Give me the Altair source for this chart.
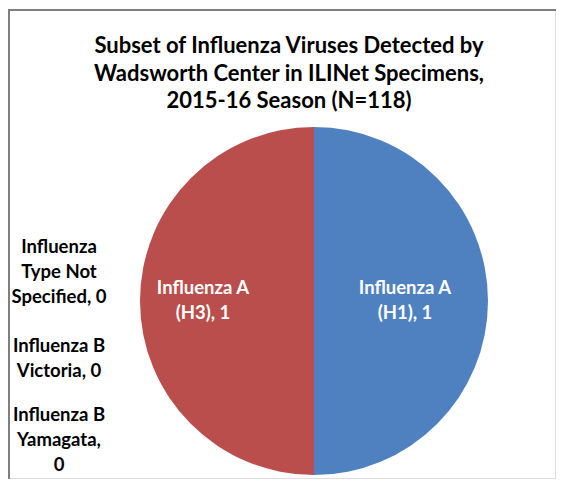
import altair as alt
import pandas as pd

# ---- data ----
categories = [
    "Influenza A (H1)",
    "Influenza A (H3)",
    "Influenza Type Not Specified",
    "Influenza B Victoria",
    "Influenza B Yamagata",
]
counts = [1, 1, 0, 0, 0]
slice_labels = [
    "Influenza A\n(H1), 1",
    "Influenza A\n(H3), 1",
    "Influenza\nType Not\nSpecified, 0",
    "Influenza B\nVictoria, 0",
    "Influenza B\nYamagata,\n0",
]
colors = ["#4F81C1", "#BA4E4C", "#9BBB59", "#8064A2", "#4BACC6"]
title_lines = [
    "Subset of Influenza Viruses Detected by",
    "Wadsworth Center in ILINet Specimens,",
    "2015-16 Season (N=118)",
]

df = pd.DataFrame({
    "category": categories,
    "count": counts,
    "label": slice_labels,
    "order": list(range(len(categories))),
})

W, H = 548, 471
CX, CY, R = 305, 292, 174
FONT = "Lato"
LABEL_SIZE = 18.5

base = alt.Chart(df).encode(
    theta=alt.Theta("count:Q", stack=True),
    order=alt.Order("order:Q"),
)

pie = base.mark_arc(outerRadius=R).encode(
    color=alt.Color("category:N", scale=alt.Scale(domain=categories, range=colors), legend=None),
    x=alt.value(CX),
    y=alt.value(CY),
)

inside = base.transform_filter(alt.datum["count"] > 0).mark_text(
    radius=101, font=FONT, fontWeight="bold", fontSize=LABEL_SIZE, color="white",
    lineBreak="\n", lineHeight=25, align="center", baseline="middle", dy=-13, dx=-10,
).encode(text="label:N", x=alt.value(CX), y=alt.value(CY))

# first-line positions of the three zero-value labels stacked on the left
zero_tops = {categories[2]: 238, categories[3]: 337, categories[4]: 406}
zero_layers = []
for cat, ytop in zero_tops.items():
    zero_layers.append(
        alt.Chart(df).transform_filter(alt.datum["category"] == cat).mark_text(
            font=FONT, fontWeight="bold", fontSize=LABEL_SIZE, color="black",
            lineBreak="\n", lineHeight=25, align="center", baseline="middle",
        ).encode(text="label:N", x=alt.value(50), y=alt.value(ytop))
    )

title_df = pd.DataFrame({"line": title_lines, "i": list(range(len(title_lines)))})
title = alt.Chart(title_df).mark_text(
    font=FONT, fontWeight="bold", fontSize=22, color="black",
    align="center", baseline="middle",
).encode(
    text="line:N",
    x=alt.value(280),
    y=alt.Y("i:O", axis=None, scale=alt.Scale(type="point", range=[37, 92], padding=0)),
)

frame_df = pd.DataFrame({"edge": ["top"]})
top_rule = alt.Chart(frame_df).mark_rule(color="#7F7F7F", strokeWidth=2).encode(
    x=alt.value(0), x2=alt.value(W), y=alt.value(1)
)
left_rule = alt.Chart(frame_df).mark_rule(color="#7F7F7F", strokeWidth=2).encode(
    x=alt.value(0), y=alt.value(0), y2=alt.value(H)
)

chart = alt.layer(pie, inside, *zero_layers, title, top_rule, left_rule).properties(
    width=W, height=H, padding=0,
    autosize=alt.AutoSizeParams(type="fit", contains="padding"),
).configure_view(stroke=None).configure(background="white")

chart.save("out.html", embed_options={"renderer": "svg", "actions": False})
